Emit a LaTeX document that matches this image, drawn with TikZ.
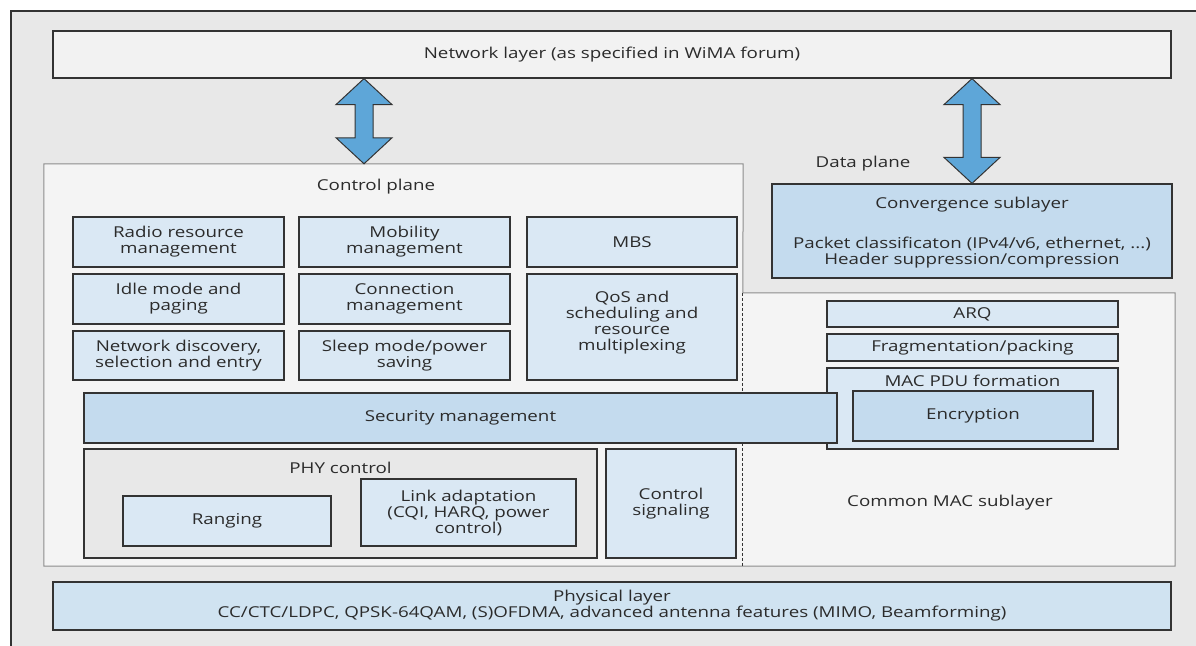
\documentclass[tikz,border=0pt]{standalone}
\usepackage{fontspec}
\setmainfont{Open Sans}[FakeStretch=1.25]
\usetikzlibrary{calc}

\definecolor{bggray}{HTML}{E8E8E8}
\definecolor{netgray}{HTML}{F2F2F2}
\definecolor{panelgray}{HTML}{F4F4F4}
\definecolor{lightblue}{HTML}{DAE8F4}
\definecolor{midblue}{HTML}{C4DBEE}
\definecolor{phyblue}{HTML}{D0E3F1}
\definecolor{arrowblue}{HTML}{5EA6D8}
\definecolor{linegray}{HTML}{333333}
\definecolor{edgegray}{HTML}{8C8C8C}
\definecolor{textgray}{HTML}{2B2B2B}

\tikzset{
    every node/.style={font=\fontsize{15}{16}\selectfont, text=textgray},
    dims/.style 2 args={minimum width=#1, minimum height=#2},
    box/.style={draw=linegray, line width=1.2pt, fill=lightblue, align=center, inner sep=0pt},
    darkbox/.style={box, fill=midblue},
    panel/.style={fill=panelgray, inner sep=0pt},
    fatarrow/.style={fill=arrowblue, draw=linegray, line width=1pt, line join=miter},
}

% fat double arrow between two points on one vertical
\newcommand{\dblarrow}[2]{%
    \draw[fatarrow] let \p1=#1, \p2=#2 in
        (\x1,\y1) -- (\x1+28pt,\y1-26pt) -- (\x1+9pt,\y1-26pt) -- (\x1+9pt,\y2+26pt)
        -- (\x1+28pt,\y2+26pt) -- (\x1,\y2) -- (\x1-28pt,\y2+26pt) -- (\x1-9pt,\y2+26pt)
        -- (\x1-9pt,\y1-26pt) -- (\x1-28pt,\y1-26pt) -- cycle;}

\begin{document}
\begin{tikzpicture}[x=1pt,y=1pt]
    % Canvas and outer frame
    \useasboundingbox (0,0) rectangle (1196,-645);
    \fill[white] (0,0) rectangle (1196,-645);
    \filldraw[fill=bggray, draw=linegray, line width=1.2pt] (11,-11) rectangle (1210,-660);

    % Network layer
    \node[box, fill=netgray, dims={1118}{47}] (net) at (612,-54.5) {Network layer (as specified in WiMA forum)};

    % Control plane and common MAC panels
    \node[panel, dims={699}{402}] (cp) at (393.5,-365) {};
    \node[panel, dims={432}{273}] (cmac) at (959,-429.5) {};
    \draw[edgegray, line width=1pt] (cmac.north west) -- (cp.north east) -- (cp.north west)
        -- (cp.south west) -- (cmac.south east) -- (cmac.north east) -- cycle;
    \draw[linegray, line width=1pt, dash pattern=on 3pt off 2pt] (cmac.north west) -- (cmac.south west);
    \node (cplabel) at (376,-187) {Control plane};
    \node (cmaclabel) at (950,-503) {Common MAC sublayer};

    % Data plane
    \node (dplabel) at (863,-164) {Data plane};
    \node[darkbox, dims={400}{94}] (conv) at (972,-231) {};
    \node (convtitle) at (972,-205) {Convergence sublayer};
    \node[align=center] (convtext) at (972,-253) {Packet classificaton (IPv4/v6, ethernet, ...)\\Header suppression/compression};

    % Double arrows
    \coordinate (lx) at (364,0);
    \dblarrow{(net.south -| lx)}{(cp.north -| lx)}
    \dblarrow{(net.south -| conv.north)}{(conv.north)}

    % Control plane functions
    \node[box, dims={211}{50}] (rrm) at (178.5,-242) {Radio resource\\management};
    \node[box, dims={211}{50}] (mob) at (404.5,-242) {Mobility\\management};
    \node[box, dims={210}{50}] (mbs) at (632,-242) {MBS};
    \node[box, dims={211}{50}] (idle) at (178.5,-299) {Idle mode and\\paging};
    \node[box, dims={211}{50}] (conn) at (404.5,-299) {Connection\\management};
    \node[box, dims={210}{106}, text depth=12pt] (qos) at (632,-327) {QoS and\\scheduling and\\resource\\multiplexing};
    \node[box, dims={211}{49}] (disc) at (178.5,-355.5) {Network discovery,\\selection and entry};
    \node[box, dims={211}{49}] (sleep) at (404.5,-355.5) {Sleep mode/power\\saving};

    % PHY control
    \node[box, fill=bggray, dims={513}{109}] (phy) at (340.5,-503.5) {};
    \node[anchor=north] (phylabel) at ([yshift=-10pt]phy.north) {PHY control};
    \node[box, dims={208}{50}] (rang) at (227,-521) {Ranging};
    \node[box, dims={215}{67}] (link) at (468.5,-512.5) {Link adaptation\\(CQI, HARQ, power\\control)};
    \node[box, dims={130}{109}] (csig) at (671,-503.5) {Control\\signaling};

    % Common MAC functions
    \node[box, dims={291}{26}] (arq) at (972.5,-314) {ARQ};
    \node[box, dims={291}{27}] (frag) at (972.5,-347.5) {Fragmentation/packing};
    \node[box, dims={291}{81}] (pdu) at (972.5,-408.5) {};
    \node[anchor=north] (pdulabel) at ([yshift=-4pt]pdu.north) {MAC PDU formation};
    \node[darkbox, dims={240}{50}] (enc) at (973,-416) {Encryption};

    % Security spans both planes
    \node[darkbox, dims={753}{50}] (sec) at (460.5,-418) {Security management};

    % Physical layer
    \node[box, fill=phyblue, dims={1118}{48}] (phys) at (612,-606) {Physical layer\\CC/CTC/LDPC, QPSK-64QAM, (S)OFDMA, advanced antenna features (MIMO, Beamforming)};
\end{tikzpicture}
\end{document}
